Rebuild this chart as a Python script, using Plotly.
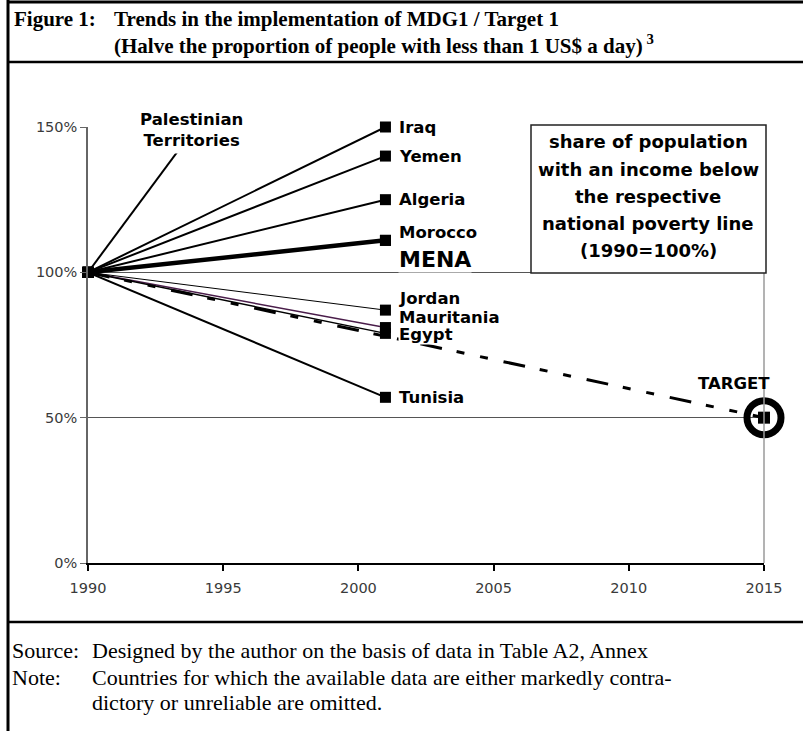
import plotly.graph_objects as go

# data (1990 = 100%)
countries = ['Palestinian Territories', 'Iraq', 'Yemen', 'Algeria', 'Morocco',
             'MENA', 'Jordan', 'Mauritania', 'Egypt', 'Tunisia']
years = [1990, 2001]
share_1990 = [100, 100, 100, 100, 100, 100, 100, 100, 100, 100]
share_2001 = [238, 150, 140, 125, 111, 111, 87, 81, 79, 57]

target_years = [1990, 2015]
target_share = [100, 50]

y_ticks = [0, 50, 100, 150]
y_ticktext = ['0%', '50%', '100%', '150%']
x_ticks = [1990, 1995, 2000, 2005, 2010, 2015]

# styles
line_width = {'MENA': 4.5, 'Jordan': 1, 'Mauritania': 1.5, 'Egypt': 1.5}
line_color = {'Mauritania': '#4a1d4a'}
label_shift = {'Morocco': 8, 'MENA': -19, 'Jordan': 12, 'Mauritania': 10, 'Egypt': -1}

W, H = 803, 731
L, R, T, B = 88, 39, 127, 168
PW, PH = W - L - R, H - T - B


def px(x):
    return (x - L) / PW


def py(y):
    return (H - B - y) / PH


fig = go.Figure()

for name, v0, v1 in zip(countries, share_1990, share_2001):
    pal = name == 'Palestinian Territories'
    fig.add_trace(go.Scatter(
        x=years, y=[v0, v1],
        mode='lines' if pal else 'lines+markers',
        line=dict(color=line_color.get(name, 'black'), width=line_width.get(name, 2)),
        marker=dict(symbol='square', size=11, color='black'),
        cliponaxis=pal,
        showlegend=False, hoverinfo='skip'
    ))

# path to the target
fig.add_trace(go.Scatter(
    x=target_years, y=target_share,
    mode='lines',
    line=dict(color='black', width=3, dash='22px,15px,8px,16px,8px,16px'),
    showlegend=False, hoverinfo='skip'
))
fig.add_trace(go.Scatter(
    x=target_years[1:], y=target_share[1:],
    mode='markers',
    marker=dict(symbol='circle-open', size=34, color='black', line=dict(color='black', width=7)),
    cliponaxis=False, showlegend=False, hoverinfo='skip'
))
fig.add_trace(go.Scatter(
    x=target_years[1:], y=target_share[1:],
    mode='markers',
    marker=dict(symbol='square', size=12, color='black'),
    cliponaxis=False, showlegend=False, hoverinfo='skip'
))

label_font = dict(family='DejaVu Sans', size=16.5, color='black', weight='bold')
annotations = []
for name, v1 in zip(countries[1:], share_2001[1:]):
    annotations.append(dict(
        x=years[1], y=v1, xref='x', yref='y', text=name, showarrow=False,
        xanchor='left', yanchor='middle', xshift=13, yshift=label_shift.get(name, 0),
        font=dict(label_font, size=22) if name == 'MENA' else label_font,
        bgcolor='white', borderpad=0
    ))

annotations.append(dict(
    x=px(191), y=py(130), xref='paper', yref='paper',
    text='Palestinian<br>Territories', showarrow=False,
    xanchor='center', yanchor='middle', font=label_font,
    bgcolor='white', borderpad=3
))
annotations.append(dict(
    x=target_years[1], y=target_share[1], xref='x', yref='y', text='TARGET',
    showarrow=False, xanchor='center', yanchor='middle', xshift=-30, yshift=34,
    font=label_font
))

box_lines = ['share of population', 'with an income below', 'the respective',
             'national poverty line', '(1990=100%)']
for i, txt in enumerate(box_lines):
    annotations.append(dict(
        x=px(648), y=py(142 + 27 * i), xref='paper', yref='paper', text=txt,
        showarrow=False, xanchor='center', yanchor='middle',
        font=dict(family='DejaVu Sans', size=18, color='black', weight='bold')
    ))

title_f = dict(family='Liberation Serif', size=21, color='black', weight='bold')
serif = dict(family='Liberation Serif', size=22, color='black')
texts = [
    (12, 19, 'Figure 1:', title_f),
    (112, 19, 'Trends in the implementation of MDG1 / Target 1', title_f),
    (112, 45, '(Halve the proportion of people with less than 1 US$ a day)<sup> 3</sup>', title_f),
    (10, 650, 'Source:', serif),
    (90, 650, 'Designed by the author on the basis of data in Table A2, Annex', serif),
    (10, 677, 'Note:', serif),
    (90, 677, 'Countries for which the available data are either markedly contra-', serif),
    (90, 702, 'dictory or unreliable are omitted.', serif),
]
for x0, y0, txt, f in texts:
    annotations.append(dict(
        x=px(x0), y=py(y0), xref='paper', yref='paper', text=txt, showarrow=False,
        xanchor='left', yanchor='middle', font=f
    ))

shapes = [
    # outer frame and separators
    dict(type='line', xref='paper', yref='paper', x0=px(8), x1=px(8), y0=py(0), y1=py(740),
         line=dict(color='black', width=3)),
    dict(type='line', xref='paper', yref='paper', x0=px(8), x1=px(815), y0=py(2), y1=py(2),
         line=dict(color='black', width=3)),
    dict(type='line', xref='paper', yref='paper', x0=px(8), x1=px(815), y0=py(62), y1=py(62),
         line=dict(color='black', width=2.5)),
    dict(type='line', xref='paper', yref='paper', x0=px(8), x1=px(815), y0=py(622), y1=py(622),
         line=dict(color='black', width=2.5)),
    # right edge of the plot area
    dict(type='line', xref='paper', yref='paper', x0=1, x1=1, y0=0, y1=1,
         line=dict(color='#9a9a9a', width=1.5)),
    # text box
    dict(type='rect', xref='paper', yref='paper', x0=px(531), x1=px(766), y0=py(273), y1=py(125),
         fillcolor='white', line=dict(color='#222', width=1.5), layer='above'),
]

tick_font = dict(family='DejaVu Sans', size=14.5, color='#3a3a3a')
fig.update_layout(
    width=W, height=H,
    margin=dict(l=L, r=R, t=T, b=B),
    plot_bgcolor='white', paper_bgcolor='white',
    showlegend=False,
    annotations=annotations,
    shapes=shapes,
    xaxis=dict(range=[1990, 2015], tickvals=x_ticks, showgrid=False, zeroline=False,
               showline=True, linecolor='black', linewidth=2,
               ticks='outside', ticklen=6, tickcolor='black', tickwidth=1.5,
               ticklabelstandoff=5, tickfont=tick_font),
    yaxis=dict(range=[0, 150], tickvals=y_ticks, ticktext=y_ticktext, showgrid=True,
               gridcolor='#555', gridwidth=1, zeroline=False,
               showline=True, linecolor='#666', linewidth=1.5,
               ticks='outside', ticklen=6, tickcolor='#666', tickfont=tick_font),
)

# the page body has a default 8px margin; drop it so the figure fills the window
fig.write_html('out.html', config={'displayModeBar': False},
               post_script="document.body.style.margin='0';")
